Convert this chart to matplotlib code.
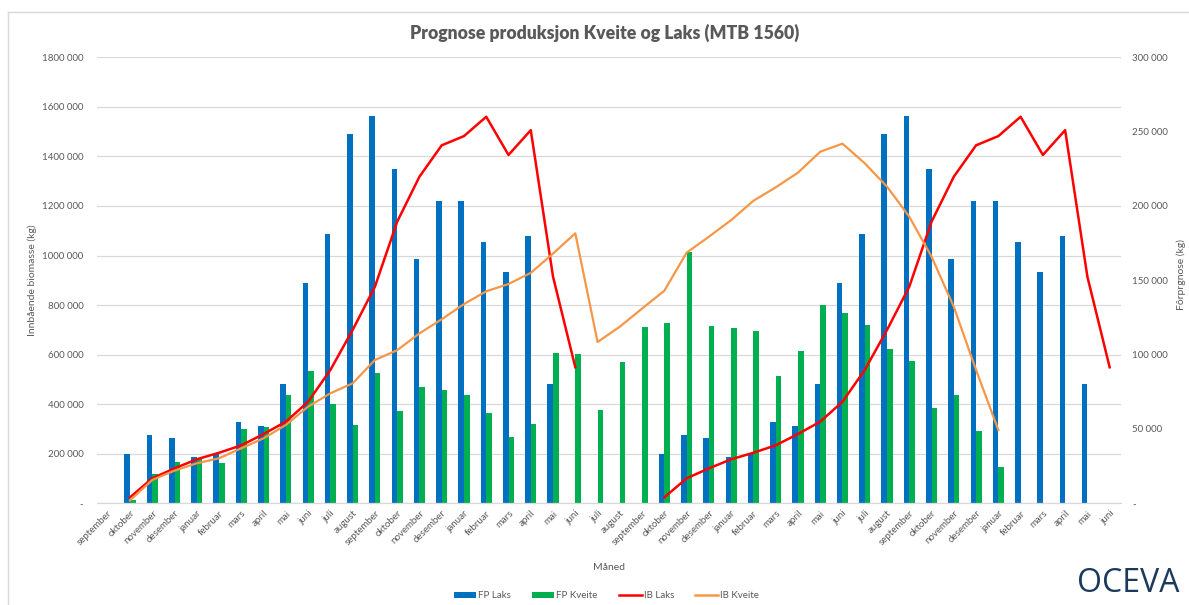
import matplotlib
matplotlib.use("Agg")
import matplotlib.pyplot as plt
import numpy as np
from matplotlib.lines import Line2D
from matplotlib.patches import Patch
from matplotlib.ticker import FuncFormatter

plt.rcParams['font.family'] = ['Lato', 'DejaVu Sans']

# ---------------- data ----------------
month_labels = [
    "september", "oktober", "november", "desember", "januar", "februar", "mars", "april", "mai", "juni", "juli", "august",
    "september", "oktober", "november", "desember", "januar", "februar", "mars", "april", "mai", "juni", "juli", "august",
    "september", "oktober", "november", "desember", "januar", "februar", "mars", "april", "mai", "juni", "juli", "august",
    "september", "oktober", "november", "desember", "januar", "februar", "mars", "april", "mai", "juni",
]

fp_laks = [0, 200000, 275000, 265000, 187000, 200000, 327000, 312000, 483000, 888000, 1086000, 1489000,
           1565000, 1351000, 986000, 1220000, 1220000, 1055000, 935000, 1080000, 483000, 0, 0, 0,
           0, 200000, 275000, 265000, 187000, 200000, 327000, 312000, 483000, 888000, 1086000, 1489000,
           1565000, 1351000, 986000, 1220000, 1220000, 1055000, 935000, 1080000, 483000, 0]

fp_kveite = [0, 15000, 117000, 167000, 180000, 164000, 301000, 308000, 438000, 533000, 402000, 316000,
             526000, 374000, 468000, 457000, 436000, 364000, 269000, 320000, 605000, 601000, 377000, 572000,
             710000, 726000, 1014000, 714000, 706000, 695000, 515000, 616000, 800000, 768000, 721000, 623000,
             576000, 385000, 436000, 290000, 146000, 0, 0, 0, 0, 0]

ib_laks = [None, 4000, 16800, 23500, 29600, 34000, 39000, 46600, 54900, 68300, 89700, 116600,
           145700, 189400, 219700, 240800, 247000, 260000, 234300, 251000, 152400, 91500, None, None,
           None, 4000, 16800, 23500, 29600, 34000, 39000, 46600, 54900, 68300, 89700, 116600,
           145700, 189400, 219700, 240800, 247000, 260000, 234300, 251000, 152400, 91500]

ib_kveite = [None, 2000, 15700, 22000, 26900, 30300, 37000, 43700, 52700, 65000, 74000, 80700,
             96400, 103000, 114300, 123800, 134000, 142600, 147500, 155000, 168000, 181600, 108500, 118800,
             131000, 143000, 168600, 179300, 190500, 203500, 212500, 222400, 236500, 241900, 228700, 213000,
             192800, 165900, 132200, 89700, 49300, None, None, None, None, None]

title = "Prognose produksjon Kveite og Laks (MTB 1560)"
series_names = ["FP Laks", "FP Kveite", "IB Laks", "IB Kveite"]

# ---------------- style ----------------
C_BLUE = "#0070C0"
C_GREEN = "#00B050"
C_RED = "#FF0000"
C_ORANGE = "#F79646"
C_TEXT = "#595959"
C_GRID = "#D9D9D9"

W, H = 1189, 605
fig = plt.figure(figsize=(W / 100, H / 100), dpi=100)
fig.patch.set_facecolor("white")

left, right, top, bottom = 96.6, 1120.8, 57.3, 503.3
ax = fig.add_axes([left / W, (H - bottom) / H, (right - left) / W, (bottom - top) / H])

x = np.arange(len(month_labels))
bw = 0.25
to_arr = lambda v: np.array([np.nan if a is None else a for a in v], dtype=float)

ax.bar(x - bw / 2, to_arr(fp_laks), bw, color=C_BLUE, zorder=2, label=series_names[0])
ax.bar(x + bw / 2, to_arr(fp_kveite), bw, color=C_GREEN, zorder=2, label=series_names[1])

ax.set_xlim(-0.5, len(month_labels) - 0.5)
ax.set_ylim(0, 1800000)
ax.set_yticks(np.arange(0, 1800001, 200000))
ax.yaxis.grid(True, color=C_GRID, lw=0.9)
ax.set_axisbelow(True)
for s in ["left", "right", "top"]:
    ax.spines[s].set_visible(False)
ax.spines["bottom"].set_color(C_GRID)
ax.spines["bottom"].set_linewidth(0.9)


def fmt(v, pos=None):
    v = int(round(v))
    if v == 0:
        return "-"
    return f"{v // 1000} {v % 1000:03d}"


ax.yaxis.set_major_formatter(FuncFormatter(fmt))
ax.tick_params(axis="y", length=0, labelsize=7, labelcolor=C_TEXT, pad=9.5)
ax.set_xticks(x)
ax.set_xticklabels(month_labels, rotation=45, ha="right", rotation_mode="anchor")
ax.tick_params(axis="x", length=0, labelsize=7, labelcolor=C_TEXT, pad=4)

ax2 = ax.twinx()
ax2.set_ylim(0, 300000)
ax2.set_yticks(np.arange(0, 300001, 50000))
ax2.yaxis.set_major_formatter(FuncFormatter(fmt))
ax2.tick_params(axis="y", length=0, labelsize=7, labelcolor=C_TEXT, pad=8.3)
for s in ["left", "right", "top", "bottom"]:
    ax2.spines[s].set_visible(False)

ax2.plot(x, to_arr(ib_laks), color=C_RED, lw=1.8, solid_joinstyle="round", zorder=3)
ax2.plot(x, to_arr(ib_kveite), color=C_ORANGE, lw=1.6, solid_joinstyle="round", zorder=3)

# texts
fig.text(605 / W, 1 - 33 / H, title, ha="center", va="center", fontsize=12.7, weight="heavy", color=C_TEXT)
fig.text(32 / W, 1 - 280 / H, "Innbående biomasse (kg)", rotation=90, ha="center", va="center",
         fontsize=7.5, color=C_TEXT)
fig.text(1181 / W, 1 - 275 / H, "Fôrprgnose (kg)", rotation=90, ha="center", va="center",
         fontsize=7.5, color=C_TEXT)
fig.text(609 / W, 1 - 568 / H, "Måned", ha="center", va="center", fontsize=7.5, color=C_TEXT)

handles = [
    Patch(facecolor=C_BLUE, edgecolor="none"),
    Patch(facecolor=C_GREEN, edgecolor="none"),
    Line2D([0], [0], color=C_RED, lw=1.8),
    Line2D([0], [0], color=C_ORANGE, lw=1.8),
]
leg = fig.legend(handles, series_names, loc="center", bbox_to_anchor=(606 / W, 1 - 596 / H), ncol=4,
                 frameon=False, fontsize=7, handlelength=2.3, handleheight=0.6, handletextpad=0.2,
                 columnspacing=2.2)
for t in leg.get_texts():
    t.set_color(C_TEXT)

fig.text(1128 / W, 1 - 584 / H, "OCEVA", ha="center", va="center", fontsize=23, color="#1B3A5C",
         family=["Open Sans", "DejaVu Sans"])

# chart border
fig.add_artist(Line2D([8 / W, 8 / W], [0, 1 - 12 / H], transform=fig.transFigure, color=C_GRID, lw=1))
fig.add_artist(Line2D([8 / W, 1], [1 - 12 / H, 1 - 12 / H], transform=fig.transFigure, color=C_GRID, lw=1))

fig.savefig("out.png", dpi=100)
